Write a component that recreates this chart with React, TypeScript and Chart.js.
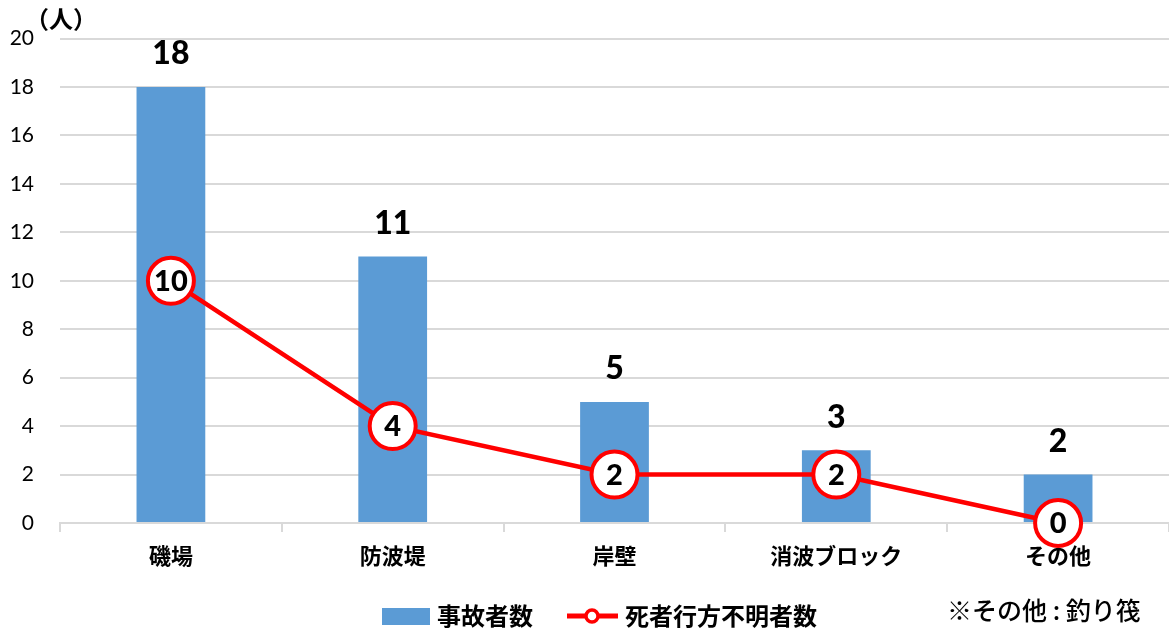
import React, { useEffect, useRef } from "react";
import { Chart, registerables } from "chart.js";

Chart.register(...registerables);

const categories = ["磯場", "防波堤", "岸壁", "消波ブロック", "その他"];
const accidentCounts = [18, 11, 5, 3, 2];
const deathCounts = [10, 4, 2, 2, 0];
const seriesNames = ["事故者数", "死者行方不明者数"];
const yUnit = "（人）";
const footNote = "※その他 : 釣り筏";

const BLUE = "#5b9bd5";
const RED = "#ff0000";
const NUM_FONT = "Lato, 'Noto Sans', sans-serif";
const JP_FONT = "'Noto Sans CJK JP', sans-serif";

const labelsPlugin = {
  id: "customLabels",
  afterDatasetsDraw(chart: any) {
    const ctx = chart.ctx;
    ctx.save();
    const barMeta = chart.getDatasetMeta(0);
    ctx.fillStyle = "#000";
    ctx.font = `900 32px ${NUM_FONT}`;
    ctx.textAlign = "center";
    ctx.textBaseline = "middle";
    barMeta.data.forEach((el: any, i: number) => {
      ctx.fillText(String(accidentCounts[i]), el.x, el.y - 33);
    });
    const lineMeta = chart.getDatasetMeta(1);
    ctx.font = `900 29px ${NUM_FONT}`;
    lineMeta.data.forEach((el: any, i: number) => {
      ctx.fillText(String(deathCounts[i]), el.x, el.y + 1);
    });
    ctx.restore();
  },
  afterDraw(chart: any) {
    const ctx = chart.ctx;
    ctx.save();
    ctx.fillStyle = "#000";
    ctx.font = `bold 24px ${JP_FONT}`;
    ctx.textAlign = "left";
    ctx.textBaseline = "middle";
    ctx.fillText(yUnit, 25, 19);
    const ly = 616;
    ctx.fillStyle = BLUE;
    ctx.fillRect(382, 608, 48, 17);
    ctx.fillStyle = "#000";
    ctx.font = `bold 24px ${JP_FONT}`;
    ctx.fillText(seriesNames[0], 437, ly);
    ctx.strokeStyle = RED;
    ctx.lineWidth = 5;
    ctx.beginPath();
    ctx.moveTo(567, ly);
    ctx.lineTo(618, ly);
    ctx.stroke();
    ctx.beginPath();
    ctx.arc(592, ly, 6, 0, Math.PI * 2);
    ctx.fillStyle = "#fff";
    ctx.fill();
    ctx.lineWidth = 3.5;
    ctx.stroke();
    ctx.fillStyle = "#000";
    ctx.fillText(seriesNames[1], 625, ly);
    ctx.font = `500 25px ${JP_FONT}`;
    ctx.fillText(footNote, 947, 610);
    ctx.restore();
  },
};

export default function App() {
  const canvasRef = useRef<HTMLCanvasElement | null>(null);

  useEffect(() => {
    if (!canvasRef.current) return;
    const chart = new Chart(canvasRef.current, {
      type: "bar",
      data: {
        labels: categories,
        datasets: [
          {
            type: "bar",
            label: seriesNames[0],
            data: accidentCounts,
            backgroundColor: BLUE,
            categoryPercentage: 1,
            barPercentage: 0.31,
            order: 2,
          },
          {
            type: "line",
            label: seriesNames[1],
            data: deathCounts,
            borderColor: RED,
            borderWidth: 4.5,
            pointRadius: 23,
            pointBorderWidth: 4,
            pointBackgroundColor: "#fff",
            pointBorderColor: RED,
            pointHoverRadius: 23,
            tension: 0,
            order: 1,
            clip: false,
          } as any,
        ],
      },
      options: {
        animation: false,
        responsive: false,
        maintainAspectRatio: false,
        layout: { autoPadding: false, padding: { top: 38, left: 0, right: 0, bottom: 0 } },
        plugins: {
          legend: { display: false },
          tooltip: { enabled: false },
        },
        scales: {
          x: {
            offset: true,
            grid: {
              display: true,
              drawOnChartArea: false,
              drawTicks: true,
              tickLength: 9,
              color: "#d9d9d9",
              lineWidth: 2,
            },
            border: { display: true, color: "#d9d9d9", width: 2 },
            ticks: {
              color: "#000",
              font: { family: JP_FONT, size: 22, weight: "bold" },
              padding: 10,
            },
            afterFit(scale: any) {
              scale.height = 107;
            },
          },
          y: {
            min: 0,
            max: 20,
            ticks: {
              stepSize: 2,
              color: "#000",
              font: { family: NUM_FONT, size: 21 },
              padding: 26,
            },
            grid: {
              color: "#d9d9d9",
              lineWidth: 2,
              drawTicks: false,
            },
            border: { display: false },
            afterFit(scale: any) {
              scale.width = 60;
            },
          },
        },
      },
      plugins: [labelsPlugin],
    });
    return () => chart.destroy();
  }, []);

  return (
    <div style={{ position: "fixed", left: 0, top: 0, width: 1169, height: 630, background: "#fff" }}>
      <canvas ref={canvasRef} width={1169} height={630} style={{ width: 1169, height: 630 }} />
    </div>
  );
}
